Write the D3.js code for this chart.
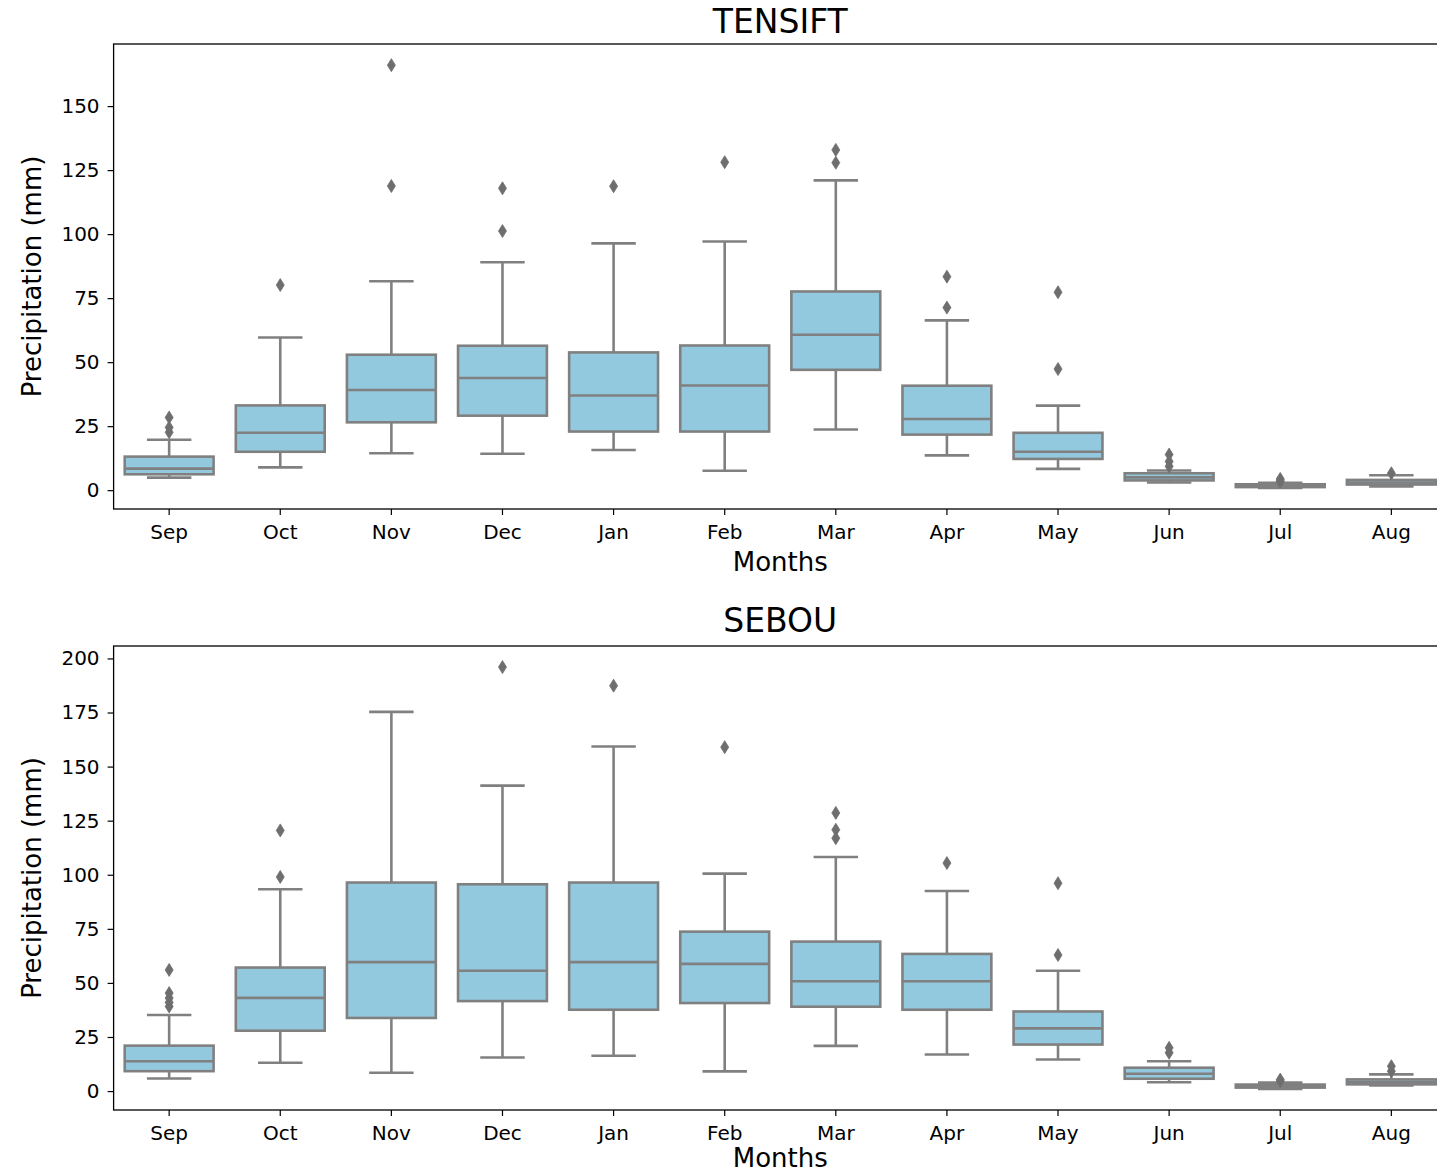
<!DOCTYPE html>
<html>
<head>
<style>
  body {
    background-color: white;
    margin: 0px;
    overflow: hidden;
  }
  text {
    font-family: "DejaVu Sans", sans-serif;
    fill: black;
  }
</style>
<script src="https://cdn.jsdelivr.net/npm/d3@7/dist/d3.min.js"></script>
</head>
<body>
  <svg></svg>
</body>
<script>
const months = ["Sep", "Oct", "Nov", "Dec", "Jan", "Feb", "Mar", "Apr", "May", "Jun", "Jul", "Aug"];

// TENSIFT box stats (mm)
const tensiftLow    = [4.9, 8.9, 14.4, 14.2, 15.7, 7.6, 23.7, 13.6, 8.3, 3.0, 0.9, 1.5];
const tensiftQ1     = [6.2, 15.0, 26.5, 29.1, 22.9, 22.9, 47.0, 21.7, 12.2, 3.8, 1.2, 2.2];
const tensiftMedian = [8.4, 22.4, 39.1, 43.8, 37.0, 40.9, 60.7, 27.8, 15.0, 5.0, 1.7, 3.0];
const tensiftQ3     = [13.1, 33.1, 52.9, 56.4, 53.8, 56.5, 77.6, 40.8, 22.4, 6.6, 2.3, 4.0];
const tensiftHigh   = [19.7, 59.6, 81.6, 89.0, 96.4, 97.1, 121.0, 66.3, 33.0, 7.7, 2.9, 5.8];
const tensiftOut    = [[22.6, 24.5, 28.4], [80.1], [118.8, 166.0], [101.2, 117.9], [118.7], [128.1],
                       [127.9, 132.9], [71.3, 83.4], [47.3, 77.3], [9.3, 11.2, 13.9], [3.3, 3.9, 4.4], [6.6]];

// SEBOU box stats (mm)
const sebouLow    = [5.8, 13.1, 8.5, 15.5, 16.3, 9.1, 20.9, 16.9, 14.6, 4.1, 1.0, 2.6];
const sebouQ1     = [9.2, 27.9, 33.8, 41.6, 37.6, 40.7, 39.0, 37.6, 21.5, 5.7, 1.6, 3.1];
const sebouMedian = [13.8, 43.1, 59.6, 55.6, 59.6, 58.8, 50.8, 50.8, 29.0, 8.0, 2.2, 4.2];
const sebouQ3     = [21.0, 57.1, 96.4, 95.6, 96.4, 73.7, 69.1, 63.4, 36.8, 10.8, 3.0, 5.4];
const sebouHigh   = [35.2, 93.3, 175.3, 141.2, 159.3, 100.5, 108.2, 92.5, 55.6, 13.8, 3.9, 7.7];
const sebouOut    = [[39.1, 41.0, 43.0, 45.3, 56.0], [99.0, 120.5], [], [196.0], [187.4], [159.0],
                     [116.9, 120.8, 128.6], [105.4], [62.9, 96.1], [17.7, 20.0], [4.6, 5.3], [9.2, 11.5]];

const tensiftTicks = [0, 25, 50, 75, 100, 125, 150];
const sebouTicks = [0, 25, 50, 75, 100, 125, 150, 175, 200];

const width = 1437, height = 1174;
const fillColor = "rgb(147, 201, 222)",
    lineColor = "rgb(128, 128, 128)";

const svg = d3.select("svg")
    .attr("width", width)
    .attr("height", height);

const left = 113.6, right = 1446.9;

const x = d3.scaleBand()
    .domain(months)
    .range([left, right])
    .paddingInner(0.2)
    .paddingOuter(0.1);

const diamond = "M0,-6.5L4,0L0,6.5L-4,0Z";

drawPanel("TENSIFT", 44, 509, tensiftTicks,
  [tensiftLow, tensiftQ1, tensiftMedian, tensiftQ3, tensiftHigh, tensiftOut], 11);
drawPanel("SEBOU", 646, 1110, sebouTicks,
  [sebouLow, sebouQ1, sebouMedian, sebouQ3, sebouHigh, sebouOut], 14);

function drawPanel(title, top, bottom, ticks, stats, titleGap) {
  const [low, q1, med, q3, high, out] = stats;
  const rows = months.map(function(m, i) {
    return {month: m, low: low[i], q1: q1[i], med: med[i], q3: q3[i], high: high[i], out: out[i]};
  });

  const all = d3.merge([low, high, d3.merge(out)]);
  const lo = d3.min(all), hi = d3.max(all);
  const pad = (hi - lo) * 0.05;

  const y = d3.scaleLinear()
      .domain([lo - pad, hi + pad])
      .range([bottom, top]);

  const g = svg.append("g");
  const bw = x.bandwidth();

  const boxes = g.selectAll("g.box")
      .data(rows)
    .enter().append("g")
      .attr("class", "box")
      .attr("transform", function(d) { return "translate(" + (x(d.month) + bw / 2) + ",0)"; });

  // whiskers
  boxes.append("line")
      .attr("y1", function(d) { return y(d.q3); })
      .attr("y2", function(d) { return y(d.high); })
      .style("stroke", lineColor).style("stroke-width", 2.6);
  boxes.append("line")
      .attr("y1", function(d) { return y(d.q1); })
      .attr("y2", function(d) { return y(d.low); })
      .style("stroke", lineColor).style("stroke-width", 2.6);

  boxes.append("rect")
      .attr("x", -bw / 2)
      .attr("width", bw)
      .attr("y", function(d) { return y(d.q3); })
      .attr("height", function(d) { return y(d.q1) - y(d.q3); })
      .style("fill", fillColor)
      .style("stroke", lineColor)
      .style("stroke-width", 2.6);

  boxes.append("line")
      .attr("x1", -bw / 2).attr("x2", bw / 2)
      .attr("y1", function(d) { return y(d.med); })
      .attr("y2", function(d) { return y(d.med); })
      .style("stroke", lineColor).style("stroke-width", 2.6);

  // caps
  ["low", "high"].forEach(function(k) {
    boxes.append("line")
        .attr("x1", -bw / 4).attr("x2", bw / 4)
        .attr("y1", function(d) { return y(d[k]); })
        .attr("y2", function(d) { return y(d[k]); })
        .style("stroke", lineColor).style("stroke-width", 2.6);
  });

  boxes.selectAll("path.flier")
      .data(function(d) { return d.out; })
    .enter().append("path")
      .attr("class", "flier")
      .attr("d", diamond)
      .attr("transform", function(v) { return "translate(0," + y(v) + ")"; })
      .style("fill", "rgb(110, 110, 110)")
      .style("stroke", "rgb(110, 110, 110)")
      .style("stroke-width", 0.8);

  // axes
  const yAxis = g.append("g")
      .attr("transform", "translate(" + left + ",0)")
      .call(d3.axisLeft(y).tickValues(ticks).tickSize(6).tickPadding(8));
  const xAxis = g.append("g")
      .attr("transform", "translate(0," + bottom + ")")
      .call(d3.axisBottom(x).tickSize(6).tickPadding(6));

  [yAxis, xAxis].forEach(function(a) {
    a.select(".domain").remove();
    a.selectAll("line").style("stroke", "black").style("stroke-width", 1.2);
    a.selectAll("text")
        .style("font-family", "DejaVu Sans")
        .style("font-size", "20px")
        .style("fill", "black");
  });
  xAxis.selectAll("text").attr("dy", null).attr("y", 29.5);

  g.append("rect")
      .attr("x", left)
      .attr("y", top)
      .attr("width", right - left)
      .attr("height", bottom - top)
      .style("fill", "none")
      .style("stroke", "black")
      .style("stroke-width", 1.3);

  g.append("text")
      .attr("x", (left + right) / 2)
      .attr("y", top - titleGap)
      .attr("text-anchor", "middle")
      .style("font-size", "33px")
      .text(title);

  g.append("text")
      .attr("x", (left + right) / 2)
      .attr("y", Math.min(bottom + 61.5, height - 7))
      .attr("text-anchor", "middle")
      .style("font-size", "26px")
      .text("Months");

  g.append("text")
      .attr("transform", "translate(41," + (top + bottom) / 2 + ") rotate(-90)")
      .attr("text-anchor", "middle")
      .style("font-size", "26px")
      .text("Precipitation (mm)");
}
</script>
</html>
